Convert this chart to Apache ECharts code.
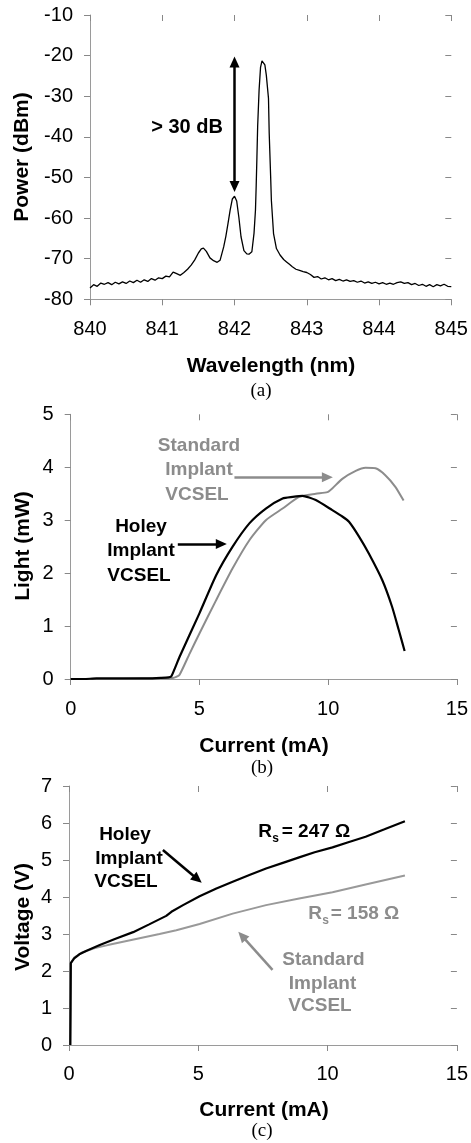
<!DOCTYPE html>
<html><head><meta charset="utf-8">
<script src="https://cdn.jsdelivr.net/npm/echarts@6/dist/echarts.min.js"></script>
<style>html,body{margin:0;padding:0;background:#fff}#c{width:471px;height:1143px}</style>
</head><body><div id="c"></div>
<script>
// ---- (a) optical spectrum ----
const wavelength = [840.00,840.05,840.10,840.15,840.20,840.25,840.30,840.35,840.40,840.45,840.50,840.55,840.60,840.65,840.70,840.75,840.80,840.85,840.90,840.95,
841.00,841.05,841.10,841.15,841.20,841.25,841.30,841.35,841.40,841.45,841.50,841.54,841.57,841.61,841.66,841.71,841.76,841.80,841.85,841.88,841.91,841.94,841.97,
842.00,842.03,842.06,842.09,842.13,842.17,842.20,842.24,842.27,842.29,842.30,842.31,842.32,842.34,842.36,842.38,842.40,842.42,842.44,842.47,842.48,842.50,842.51,842.54,842.58,842.63,842.68,842.72,842.76,842.80,842.85,842.90,842.95,
843.00,843.05,843.10,843.15,843.20,843.25,843.30,843.35,843.40,843.45,843.50,843.55,843.60,843.65,843.70,843.75,843.80,843.85,843.90,843.95,
844.00,844.05,844.10,844.15,844.20,844.25,844.30,844.35,844.40,844.45,844.50,844.55,844.60,844.65,844.70,844.75,844.80,844.85,844.90,844.95,845.00];
const power = [-77.2,-76.4,-76.8,-76.0,-76.3,-75.9,-76.4,-75.8,-76.2,-75.7,-76.1,-75.5,-75.9,-75.3,-75.8,-75.2,-75.6,-74.9,-75.3,-74.7,
-74.9,-74.3,-74.5,-73.3,-73.7,-74.1,-73.4,-72.6,-71.6,-70.3,-68.6,-67.6,-67.4,-68.2,-69.8,-70.5,-70.9,-70.4,-67.1,-64.5,-61.3,-58.0,-55.3,
-54.6,-55.8,-59.8,-64.6,-68.0,-68.8,-68.9,-68.3,-63.7,-58.0,-52.0,-45.0,-37.5,-28.5,-22.9,-21.3,-20.9,-22.3,-24.8,-30.5,-39.1,-49.8,-55.6,-63.8,-67.5,-69.1,-70.2,-70.8,-71.4,-72.0,-72.6,-72.9,-73.2,
-73.4,-73.9,-74.6,-74.4,-75.0,-74.7,-75.2,-74.9,-75.4,-75.1,-75.5,-75.2,-75.6,-75.4,-75.8,-75.5,-76.0,-75.7,-76.1,-75.8,
-76.2,-75.9,-76.3,-76.0,-76.3,-75.9,-75.7,-76.1,-75.9,-76.4,-76.1,-76.6,-76.3,-76.8,-76.4,-76.9,-76.4,-76.7,-76.3,-76.8,-76.9];
const wlTicks = {min: 840, max: 845, interval: 1};
const pwTicks = {min: -80, max: -10, interval: 10};

// ---- (b) L-I curves ----
const liHoleyI = [0,0.5,1,1.5,2,2.5,3,3.5,3.8,3.91,4.23,5.0,5.65,6.29,6.94,7.58,8.23,8.62,9.0,9.52,10.16,10.55,10.81,11.2,11.58,12.1,12.48,12.74,12.97];
const liHoleyL = [0,0,0.01,0.01,0.01,0.01,0.01,0.02,0.03,0.05,0.42,1.24,1.96,2.5,2.94,3.22,3.41,3.44,3.46,3.38,3.19,3.07,2.97,2.69,2.37,1.87,1.37,0.93,0.53];
const liStdI = [0,1,2,3,3.97,4.1,4.23,4.62,5.0,5.65,6.29,6.94,7.58,8.23,8.87,9.52,9.97,10.16,10.55,11.07,11.45,11.84,12.22,12.61,12.93];
const liStdL = [0,0,0,0.01,0.02,0.04,0.08,0.48,0.86,1.49,2.09,2.62,3.0,3.22,3.44,3.5,3.53,3.6,3.78,3.93,3.99,3.98,3.85,3.63,3.37];

// ---- (c) V-I curves ----
const viHoleyI = [0.05,0.06,0.07,0.2,0.4,0.68,1.19,1.8,2.48,3.1,3.76,3.96,4.41,5.05,5.7,6.33,7.0,7.62,8.3,8.9,9.5,10.19,10.8,11.47,12.2,12.99];
const viHoleyV = [0,1.0,2.21,2.34,2.45,2.55,2.70,2.87,3.05,3.26,3.49,3.60,3.78,4.02,4.23,4.41,4.60,4.77,4.93,5.07,5.21,5.34,5.48,5.63,5.83,6.05];
const viStdI = [0.05,0.07,0.2,0.5,1.0,1.5,2.5,3.5,4.15,5.05,6.33,7.62,8.9,10.19,11.47,12.99];
const viStdV = [0,2.22,2.36,2.5,2.62,2.7,2.85,3.0,3.1,3.27,3.55,3.78,3.96,4.13,4.34,4.58];

const FONT = '"Liberation Sans", Arial, sans-serif';
const SERIF = '"Liberation Serif", "Times New Roman", serif';
const GRAY = '#8c8c8c';
const AXIS = '#9a9a9a';

function zip(a, b) { return a.map((v, i) => [v, b[i]]); }

function axisPair(gridIndex, t, margin) {
  const base = {type: 'value', gridIndex, min: t.min, max: t.max, interval: t.interval,
    splitLine: {show: false}, scale: false};
  return [
    Object.assign({}, base, {
      axisLine: {show: true, onZero: false, lineStyle: {color: AXIS, width: 1}},
      axisTick: {show: true, inside: false, length: 6, lineStyle: {color: '#888', width: 1}},
      axisLabel: {show: true, margin, color: '#000', fontSize: 20, fontFamily: FONT, showMinLabel: true, showMaxLabel: true}
    }),
    Object.assign({}, base, {
      axisLine: {show: false, onZero: false},
      axisTick: {show: true, inside: true, length: 6, lineStyle: {color: '#888', width: 1}},
      axisLabel: {show: false}
    })
  ];
}

const xAxis = [].concat(
  axisPair(0, wlTicks, 20),
  axisPair(1, {min: 0, max: 15, interval: 5}, 20),
  axisPair(2, {min: 0, max: 15, interval: 5}, 19)
);
const yAxis = [].concat(
  axisPair(0, pwTicks, 17),
  axisPair(1, {min: 0, max: 5, interval: 1}, 17),
  axisPair(2, {min: 0, max: 7, interval: 1}, 17)
);

function arrowLine(from, to, color, width, symbols) {
  return {
    silent: true, animation: false,
    symbol: symbols, symbolSize: [10, 11],
    lineStyle: {color, width, type: 'solid'},
    itemStyle: {color},
    label: {show: false},
    emphasis: {disabled: true},
    data: [[{coord: from}, {coord: to}]]
  };
}

function txt(x, y, text, opts) {
  opts = opts || {};
  return {
    type: 'text', x, y, silent: true, rotation: opts.rotation || 0, z: 100,
    style: {
      text, fill: opts.color || '#000',
      font: opts.font || ('bold 21px ' + FONT),
      textAlign: opts.align || 'center', align: opts.align || 'center',
      textVerticalAlign: 'middle', verticalAlign: 'middle'
    }
  };
}

const b19 = 'bold 19px ' + FONT;
const b12 = 'bold 12px ' + FONT;
const graphics = [
  txt(22, 157, 'Power (dBm)', {rotation: Math.PI / 2}),
  txt(271, 366, 'Wavelength (nm)'),
  txt(261, 391, '(a)', {font: '19px ' + SERIF}),
  txt(187, 127, '> 30 dB', {font: 'bold 20px ' + FONT}),

  txt(23, 546, 'Light (mW)', {rotation: Math.PI / 2}),
  txt(264, 746, 'Current (mA)'),
  txt(262, 768, '(b)', {font: '19px ' + SERIF}),
  txt(199, 445.5, 'Standard', {font: b19, color: GRAY}),
  txt(199, 470, 'Implant', {font: b19, color: GRAY}),
  txt(197, 495, 'VCSEL', {font: b19, color: GRAY}),
  txt(141, 527, 'Holey', {font: b19}),
  txt(141, 551, 'Implant', {font: b19}),
  txt(139, 575.5, 'VCSEL', {font: b19}),

  txt(23, 917, 'Voltage (V)', {rotation: Math.PI / 2}),
  txt(264, 1110, 'Current (mA)'),
  txt(262, 1131, '(c)', {font: '19px ' + SERIF}),
  txt(125, 835, 'Holey', {font: b19}),
  txt(129, 859, 'Implant', {font: b19}),
  txt(126, 882, 'VCSEL', {font: b19}),
  txt(323.5, 960, 'Standard', {font: b19, color: GRAY}),
  txt(322.5, 984, 'Implant', {font: b19, color: GRAY}),
  txt(320, 1006, 'VCSEL', {font: b19, color: GRAY}),
  txt(258.3, 831.7, 'R', {font: b19, align: 'left'}),
  txt(272.3, 839, 's', {font: b12, align: 'left'}),
  txt(281.7, 831.7, '= 247 Ω', {font: b19, align: 'left'}),
  txt(308.3, 913.3, 'R', {font: b19, align: 'left', color: GRAY}),
  txt(322.3, 920.5, 's', {font: b12, align: 'left', color: GRAY}),
  txt(330.7, 913.3, '= 158 Ω', {font: b19, align: 'left', color: GRAY})
];

const option = {
  animation: false,
  backgroundColor: '#fff',
  grid: [
    {left: 90, top: 15, width: 361.3, height: 284.3},
    {left: 70.7, top: 414.3, width: 387.6, height: 264.7},
    {left: 69, top: 786, width: 389.3, height: 259}
  ],
  xAxis, yAxis,
  series: [
    {type: 'line', xAxisIndex: 0, yAxisIndex: 0, data: zip(wavelength, power), showSymbol: false,
     lineStyle: {color: '#000', width: 1.3}, silent: true,
     markLine: arrowLine([842, -21.6], [842, -52.2], '#000', 2.5, ['triangle', 'triangle'])},
    {type: 'line', xAxisIndex: 2, yAxisIndex: 2, data: zip(liStdI, liStdL), showSymbol: false,
     smooth: 0.2,
     lineStyle: {color: GRAY, width: 2}, silent: true, z: 2,
     markLine: arrowLine([6.36, 3.81], [9.97, 3.81], GRAY, 2.5, ['none', 'triangle'])},
    {type: 'line', xAxisIndex: 2, yAxisIndex: 2, data: zip(liHoleyI, liHoleyL), showSymbol: false,
     smooth: 0.2,
     lineStyle: {color: '#000', width: 2.2}, silent: true, z: 3,
     markLine: arrowLine([4.16, 2.55], [5.85, 2.55], '#000', 2.5, ['none', 'triangle'])},
    {type: 'line', xAxisIndex: 4, yAxisIndex: 4, data: zip(viStdI, viStdV), showSymbol: false,
     lineStyle: {color: '#999', width: 2}, silent: true, z: 2,
     markLine: arrowLine([7.87, 2.03], [6.69, 2.95], GRAY, 2.5, ['none', 'triangle'])},
    {type: 'line', xAxisIndex: 4, yAxisIndex: 4, data: zip(viHoleyI, viHoleyV), showSymbol: false,
     lineStyle: {color: '#000', width: 2.2}, silent: true, z: 3,
     markLine: arrowLine([3.63, 5.27], [4.97, 4.48], '#000', 2.5, ['none', 'triangle'])}
  ],
  graphic: graphics
};

const chart = echarts.init(document.getElementById('c'), null, {renderer: 'canvas'});
chart.setOption(option);
</script>
</body></html>
